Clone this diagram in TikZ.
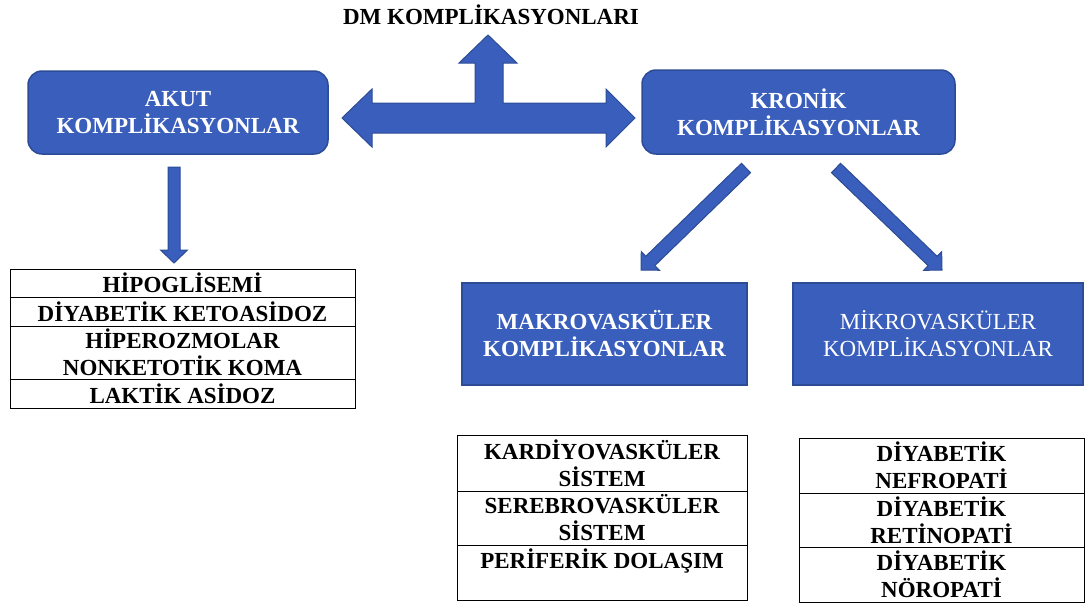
\documentclass[tikz,border=0pt]{standalone}
\usepackage{fontspec}
\setmainfont{Liberation Serif}
\usetikzlibrary{calc}
\definecolor{boxblue}{RGB}{58,94,187}
\definecolor{edgeblue}{RGB}{44,76,150}
\tikzset{
  txt/.style={font=\fontsize{23}{27}\selectfont\bfseries},
  bluebox/.style={txt, fill=boxblue, draw=edgeblue, line width=1.5pt, text=white, align=center, inner sep=0pt},
  rbox/.style={bluebox, rounded corners=14pt},
  cell/.style={txt, draw=black, line width=1pt, align=center, inner sep=0pt},
  blockarrow/.style={fill=boxblue, draw=edgeblue, line width=1pt, line join=miter},
}
% #1 tail, #2 tip, #3 shaft half width, #4 head half width, #5 head length, #6 id
\newcommand\blockarr[6]{%
  \coordinate (#6hb) at ($(#2)!#5!(#1)$);
  \draw[blockarrow] ($(#1)!#3!90:(#2)$) -- ($(#6hb)!#3!90:(#2)$) -- ($(#6hb)!#4!90:(#2)$)
    -- (#2) -- ($(#6hb)!#4!-90:(#2)$) -- ($(#6hb)!#3!-90:(#2)$) -- ($(#1)!#3!-90:(#2)$) -- cycle;
}
\begin{document}
\begin{tikzpicture}[x=1pt,y=-1pt]
\useasboundingbox (0,0) rectangle (1086,606);

% title
\node[txt] (title) at (491,15) {DM KOMPLİKASYONLARI};

% main boxes
\node[rbox, minimum width=300pt, minimum height=83pt] (akut) at (178,112.5) {AKUT\\KOMPLİKASYONLAR};
\node[rbox, minimum width=313pt, minimum height=84pt] (kronik) at (798.5,112) {KRONİK\\KOMPLİKASYONLAR};
\node[bluebox, minimum width=285pt, minimum height=102pt] (makro) at (604.5,334) {MAKROVASKÜLER\\KOMPLİKASYONLAR};
\node[bluebox, font=\fontsize{23}{27}\selectfont\mdseries, minimum width=290pt, minimum height=102pt] (mikro) at (938,334) {MİKROVASKÜLER\\KOMPLİKASYONLAR};

% double arrow with upward branch
\draw[blockarrow] (342,118) -- (372,89) -- (372,103) -- (475,103) -- (475,63) -- (459,63)
  -- (488,35) -- (517,63) -- (503,63) -- (503,103) -- (606,103) -- (606,89) -- (635,118)
  -- (606,147) -- (606,133) -- (372,133) -- (372,147) -- cycle;

% single block arrows
\coordinate (dA1) at (174,167);
\coordinate (dA2) at (174,263);
\blockarr{dA1}{dA2}{6pt}{13.5pt}{13pt}{d}
\coordinate (lA1) at (746,168);
\coordinate (lA2) at (641,270);
\blockarr{lA1}{lA2}{6.5pt}{13pt}{13pt}{l}
\coordinate (rA1) at (836,168);
\coordinate (rA2) at (942,270);
\blockarr{rA1}{rA2}{6.5pt}{13pt}{13pt}{r}

% left table
\node[cell, minimum width=345pt, minimum height=28pt] (hipo) at (182.5,283) {HİPOGLİSEMİ};
\node[cell, minimum width=345pt, minimum height=29pt] (dka) at (182.5,311.5) {DİYABETİK KETOASİDOZ};
\node[cell, minimum width=345pt, minimum height=53pt] (hhs) at (182.5,352.5) {HİPEROZMOLAR\\NONKETOTİK KOMA};
\node[cell, minimum width=345pt, minimum height=29pt] (lak) at (182.5,393.5) {LAKTİK ASİDOZ};

% bottom left table
\node[cell, minimum width=290pt, minimum height=56pt] (kard) at (602,463) {KARDİYOVASKÜLER\\SİSTEM};
\node[cell, minimum width=290pt, minimum height=54pt] (sereb) at (602,518) {SEREBROVASKÜLER\\SİSTEM};
\node[cell, minimum width=290pt, minimum height=55pt] (perif) at (602,572.5) {PERİFERİK DOLAŞIM\\\mbox{}};

% bottom right table
\node[cell, minimum width=285pt, minimum height=55pt] (nef) at (941.5,465.5) {DİYABETİK\\NEFROPATİ};
\node[cell, minimum width=285pt, minimum height=54pt] (ret) at (941.5,520) {DİYABETİK\\RETİNOPATİ};
\node[cell, minimum width=285pt, minimum height=55pt] (nor) at (941.5,574.5) {DİYABETİK\\NÖROPATİ};
\end{tikzpicture}
\end{document}
